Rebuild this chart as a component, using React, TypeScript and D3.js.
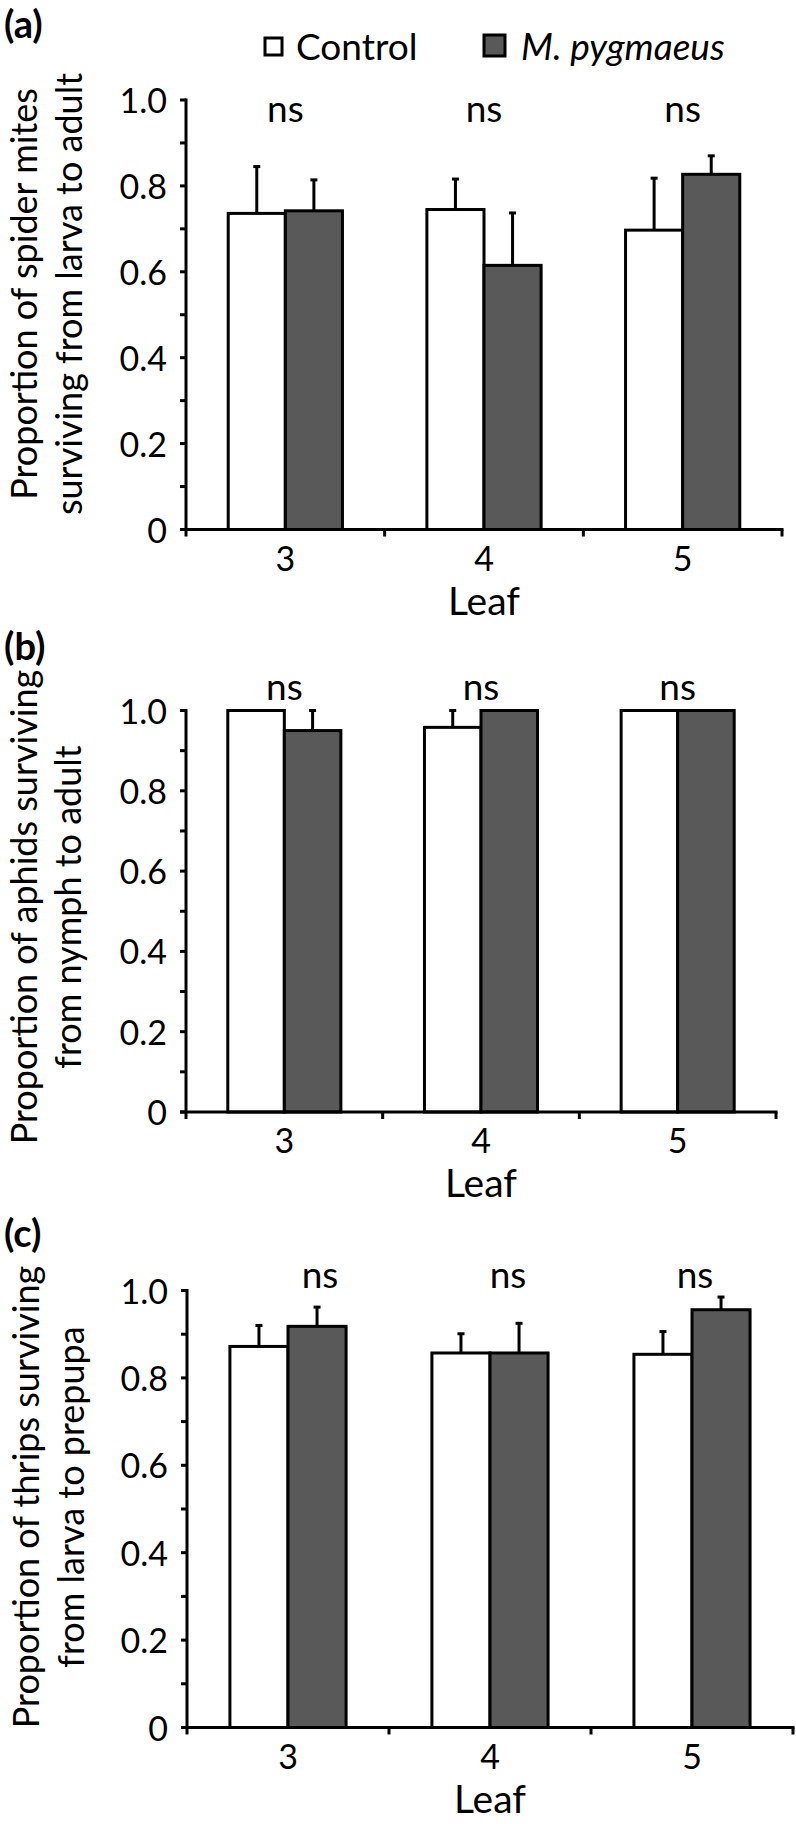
import React from "react";
import * as d3 from "d3";

// ---------- data ----------
const leaves = ["3", "4", "5"];
const treatments = ["Control", "M. pygmaeus"];

const miteControl = [0.736, 0.745, 0.697];
const miteControlSE = [0.109, 0.071, 0.121];
const miteTreat = [0.742, 0.615, 0.827];
const miteTreatSE = [0.072, 0.122, 0.043];

const aphidControl = [1.0, 0.958, 1.0];
const aphidControlSE = [0, 0.042, 0];
const aphidTreat = [0.95, 1.0, 1.0];
const aphidTreatSE = [0.05, 0, 0];

const thripsControl = [0.872, 0.857, 0.854];
const thripsControlSE = [0.048, 0.044, 0.052];
const thripsTreat = [0.918, 0.857, 0.956];
const thripsTreatSE = [0.044, 0.068, 0.029];

const yTicks = [0, 0.2, 0.4, 0.6, 0.8, 1.0];
const yTickLabels = ["0", "0.2", "0.4", "0.6", "0.8", "1.0"];
const yMinorTicks = [0.1, 0.3, 0.5, 0.7, 0.9];
const sigLabels = ["ns", "ns", "ns"];
const xTitle = "Leaf";

const FONT = "Lato, 'Open Sans', sans-serif";
const DARK = "#595959";

type PanelProps = {
  letter: string;
  letterY: number;
  x0: number;
  x1: number;
  yTop: number;
  yBottom: number;
  control: number[];
  controlSE: number[];
  treat: number[];
  treatSE: number[];
  title: string[];
  titleCenter: number;
  titleX: number[];
  nsY: number;
  nsShift: number[];
};

function Panel(p: PanelProps) {
  const x = d3.scaleBand<string>().domain(leaves).range([p.x0, p.x1]).padding(0);
  const bw = x.bandwidth();
  const xi = d3
    .scaleBand<string>()
    .domain(treatments)
    .range([bw * 0.2125, bw * 0.7875])
    .padding(0);
  const y = d3.scaleLinear().domain([0, 1]).range([p.yBottom, p.yTop]);
  const vals = [p.control, p.treat];
  const ses = [p.controlSE, p.treatSE];
  const boundaries = [p.x0, ...leaves.map((l) => (x(l) as number) + bw)];

  return (
    <g>
      <text
        x={4}
        y={p.letterY}
        fontFamily={FONT}
        fontWeight="bold"
        fontSize={38}
        fill="#000"
      >
        {p.letter}
      </text>
      {/* y-axis title */}
      {p.title.map((t, i) => (
        <text
          key={i}
          transform={`translate(${p.titleX[i]},${p.titleCenter}) rotate(-90)`}
          textAnchor="middle"
          fontFamily={FONT}
          fontSize={36}
          fill="#000"
        >
          {t}
        </text>
      ))}
      {/* bars */}
      {leaves.map((l, i) =>
        treatments.map((tr, j) => {
          const bx = (x(l) as number) + (xi(tr) as number);
          const v = vals[j][i];
          return (
            <rect
              key={l + tr}
              x={bx}
              y={y(v)}
              width={xi.bandwidth()}
              height={y(0) - y(v)}
              fill={j === 0 ? "#ffffff" : DARK}
              stroke="#000"
              strokeWidth={3}
            />
          );
        })
      )}
      {/* error bars */}
      {leaves.map((l, i) =>
        treatments.map((tr, j) => {
          const se = ses[j][i];
          if (!se) return null;
          const cx = (x(l) as number) + (xi(tr) as number) + xi.bandwidth() / 2;
          const v = vals[j][i];
          return (
            <g key={"e" + l + tr}>
              <line x1={cx} x2={cx} y1={y(v)} y2={y(v + se)} stroke="#000" strokeWidth={3} />
              <line x1={cx - 3.5} x2={cx + 3.5} y1={y(v + se)} y2={y(v + se)} stroke="#000" strokeWidth={3} />
            </g>
          );
        })
      )}
      {/* y axis */}
      <line x1={p.x0} x2={p.x0} y1={y(1) - 1.5} y2={y(0)} stroke="#000" strokeWidth={3} />
      {yTicks.map((t, i) => (
        <g key={"yt" + i}>
          <line x1={p.x0 - 6} x2={p.x0} y1={y(t)} y2={y(t)} stroke="#000" strokeWidth={3} />
          <text
            x={p.x0 - 19}
            y={y(t) + 13}
            textAnchor="end"
            fontFamily={FONT}
            fontSize={34}
            fill="#000"
          >
            {yTickLabels[i]}
          </text>
        </g>
      ))}
      {yMinorTicks.map((t, i) => (
        <line key={"ym" + i} x1={p.x0 - 6} x2={p.x0} y1={y(t)} y2={y(t)} stroke="#000" strokeWidth={3} />
      ))}
      {/* x axis */}
      <line x1={p.x0 - 6} x2={p.x1 + 1.5} y1={y(0)} y2={y(0)} stroke="#000" strokeWidth={3} />
      {boundaries.map((b, i) => (
        <line key={"xb" + i} x1={b} x2={b} y1={y(0)} y2={y(0) + 7} stroke="#000" strokeWidth={3} />
      ))}
      {leaves.map((l) => (
        <text
          key={"xl" + l}
          x={(x(l) as number) + bw / 2}
          y={y(0) + 41}
          textAnchor="middle"
          fontFamily={FONT}
          fontSize={34}
          fill="#000"
        >
          {l}
        </text>
      ))}
      <text
        x={(p.x0 + p.x1) / 2}
        y={y(0) + 85}
        textAnchor="middle"
        fontFamily={FONT}
        fontSize={39}
        fill="#000"
      >
        {xTitle}
      </text>
      {/* significance */}
      {leaves.map((l, i) => (
        <text
          key={"ns" + l}
          x={(x(l) as number) + bw / 2 + p.nsShift[i]}
          y={p.nsY}
          textAnchor="middle"
          fontFamily={FONT}
          fontSize={37}
          fill="#000"
        >
          {sigLabels[i]}
        </text>
      ))}
    </g>
  );
}

export default function App() {
  return (
    <svg
      width={796}
      height={1824}
      style={{ position: "absolute", left: 0, top: 0, background: "#fff" }}
    >
      <rect x={0} y={0} width={796} height={1824} fill="#fff" />
      {/* legend */}
      <rect x={265} y={38} width={17} height={17} fill="#fff" stroke="#000" strokeWidth={3} />
      <text x={296} y={60} fontFamily={FONT} fontSize={37} fill="#000">
        {treatments[0]}
      </text>
      <rect x={484} y={35} width={21} height={21} fill={DARK} stroke="#000" strokeWidth={3} />
      <text x={521} y={60} fontFamily={FONT} fontSize={37} fontStyle="italic" fill="#000">
        {treatments[1]}
      </text>

      <Panel
        letter="(a)"
        letterY={38}
        x0={186}
        x1={782}
        yTop={100}
        yBottom={529.5}
        control={miteControl}
        controlSE={miteControlSE}
        treat={miteTreat}
        treatSE={miteTreatSE}
        title={["Proportion of spider mites", "surviving from larva to adult"]}
        titleCenter={294}
        titleX={[37, 82]}
        nsY={121.5}
        nsShift={[0, 0, 0]}
      />
      <Panel
        letter="(b)"
        letterY={660}
        x0={186}
        x1={776}
        yTop={710.5}
        yBottom={1112}
        control={aphidControl}
        controlSE={aphidControlSE}
        treat={aphidTreat}
        treatSE={aphidTreatSE}
        title={["Proportion of aphids surviving", "from nymph to adult"]}
        titleCenter={907}
        titleX={[37, 81]}
        nsY={700}
        nsShift={[0, 0, 0]}
      />
      <Panel
        letter="(c)"
        letterY={1247}
        x0={187}
        x1={793}
        yTop={1290.5}
        yBottom={1727.5}
        control={thripsControl}
        controlSE={thripsControlSE}
        treat={thripsTreat}
        treatSE={thripsTreatSE}
        title={["Proportion of thrips surviving", "from larva to prepupa"]}
        titleCenter={1497}
        titleX={[39, 84]}
        nsY={1288}
        nsShift={[32, 18, 3]}
      />
    </svg>
  );
}
